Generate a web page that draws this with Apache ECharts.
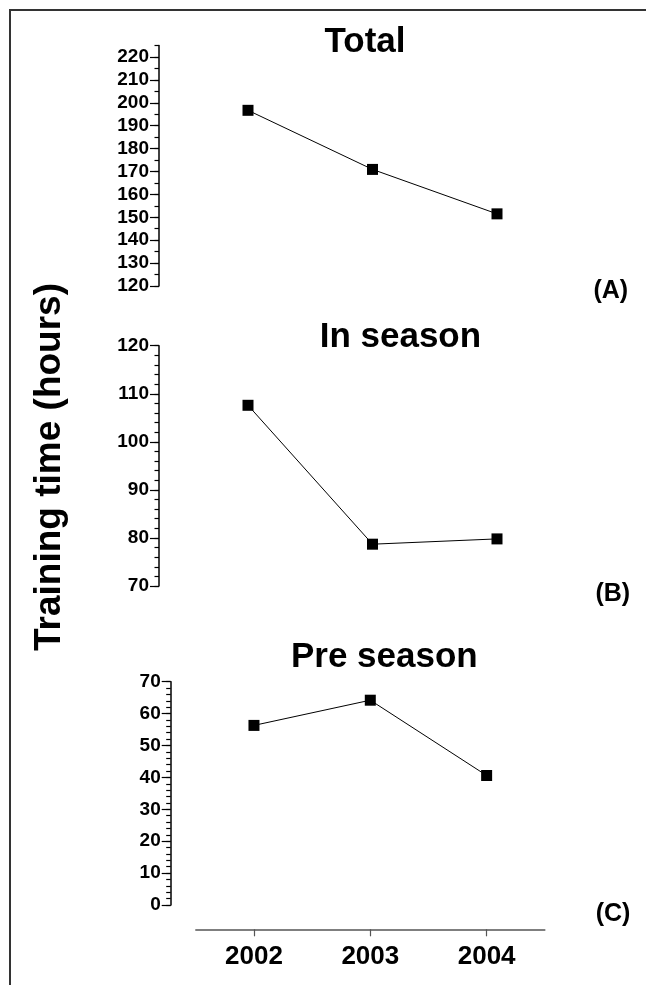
<!DOCTYPE html>
<html>
<head>
<meta charset="utf-8">
<script src="https://cdn.jsdelivr.net/npm/echarts@6/dist/echarts.min.js"></script>
<style>
html,body{margin:0;padding:0;background:#fff;}
#chart{position:absolute;left:0;top:0;width:646px;height:985px;}
#frame{position:absolute;left:9px;top:9px;right:-5px;bottom:-5px;border-top:2px solid #333;border-left:2px solid #333;pointer-events:none;}
</style>
</head>
<body>
<div id="chart"></div>
<div id="frame"></div>
<script>
const years = ['2002', '2003', '2004'];
const totalHours = [196.7, 170.9, 151.5];
const inSeasonHours = [107.6, 78.7, 79.8];
const preSeasonHours = [56.3, 64.2, 40.6];
const panelTitles = ['Total', 'In season', 'Pre season'];
const panelTags = ['(A)', '(B)', '(C)'];
const yAxisTitle = 'Training time (hours)';
const totalMajorTicks = [120, 130, 140, 150, 160, 170, 180, 190, 200, 210, 220];
const inSeasonMajorTicks = [70, 80, 90, 100, 110, 120];
const preSeasonMajorTicks = [0, 10, 20, 30, 40, 50, 60, 70];

const FONT = '"Liberation Sans", Arial, Helvetica, sans-serif';
const chart = echarts.init(document.getElementById('chart'), null, {renderer: 'canvas'});

const grids = [
  {left: 185.75, top: 45.5, width: 373.5, height: 240.5},
  {left: 185.75, top: 345.7, width: 373.5, height: 240.3},
  {left: 195.8, top: 681.7, width: 349, height: 223.3}
];

function minorAxis(gi, min, max, step, offset) {
  return {
    type: 'value', gridIndex: gi, position: 'left', offset: offset,
    min: min, max: max, interval: step,
    splitLine: {show: false},
    axisLine: {show: true, onZero: false, lineStyle: {color: '#000', width: 1.5}},
    axisTick: {show: true, length: 4.5, lineStyle: {color: '#000', width: 1.2}},
    axisLabel: {
      show: true, margin: 10, color: '#000', fontFamily: FONT, fontWeight: 'bold', fontSize: 19,
      formatter: function (v) { return (Math.round(v) % 10 === 0) ? String(Math.round(v)) : ''; }
    }
  };
}
function majorAxis(gi, min, max, ticks, offset) {
  return {
    type: 'value', gridIndex: gi, position: 'left', offset: offset,
    min: min, max: max, interval: 10,
    splitLine: {show: false},
    axisLine: {show: false, onZero: false},
    axisTick: {show: true, length: 9, customValues: ticks, lineStyle: {color: '#000', width: 1.2}},
    axisLabel: {show: false}
  };
}

const xAxes = [0, 1, 2].map(function (gi) {
  return {
    type: 'category', gridIndex: gi, data: years, boundaryGap: true,
    show: gi === 2, position: 'bottom', offset: 24.3,
    axisLine: {show: true, onZero: false, lineStyle: {color: '#555', width: 1.5}},
    axisTick: {show: true, alignWithLabel: true, length: 7, lineStyle: {color: '#555', width: 1.2}},
    axisLabel: {color: '#000', fontFamily: FONT, fontWeight: 'bold', fontSize: 26, margin: 15},
    splitLine: {show: false}
  };
});

const yAxes = [
  minorAxis(0, 120, 225, 5, 26.75),
  majorAxis(0, 120, 225, totalMajorTicks, 26.75),
  minorAxis(1, 70, 120, 2, 26.75),
  majorAxis(1, 70, 120, inSeasonMajorTicks, 26.75),
  minorAxis(2, 0, 70, 2, 25.1),
  majorAxis(2, 0, 70, preSeasonMajorTicks, 25.1)
];

function lineSeries(data, gi) {
  return {
    type: 'line', xAxisIndex: gi, yAxisIndex: gi * 2, data: data,
    symbol: 'rect', symbolSize: 11,
    itemStyle: {color: '#000'},
    lineStyle: {color: '#000', width: 1},
    animation: false, silent: true
  };
}

function txt(text, x, y, size, rot) {
  return {
    type: 'text', x: x, y: y, rotation: rot || 0,
    style: {
      text: text, fill: '#000',
      font: 'bold ' + size + 'px ' + FONT,
      align: 'center', verticalAlign: 'middle',
      textAlign: 'center', textVerticalAlign: 'middle'
    }
  };
}

chart.setOption({
  animation: false,
  backgroundColor: '#fff',
  grid: grids,
  xAxis: xAxes,
  yAxis: yAxes,
  series: [
    lineSeries(totalHours, 0),
    lineSeries(inSeasonHours, 1),
    lineSeries(preSeasonHours, 2)
  ],
  graphic: [
    txt(panelTitles[0], 365, 42.2, 35),
    txt(panelTitles[1], 400.4, 337.5, 35),
    txt(panelTitles[2], 384.3, 657.5, 35),
    txt(panelTags[0], 610.8, 290.8, 25),
    txt(panelTags[1], 612.8, 594.2, 25),
    txt(panelTags[2], 613, 914, 25),
    txt(yAxisTitle, 49.5, 467, 37, Math.PI / 2)
  ]
});
</script>
</body>
</html>
